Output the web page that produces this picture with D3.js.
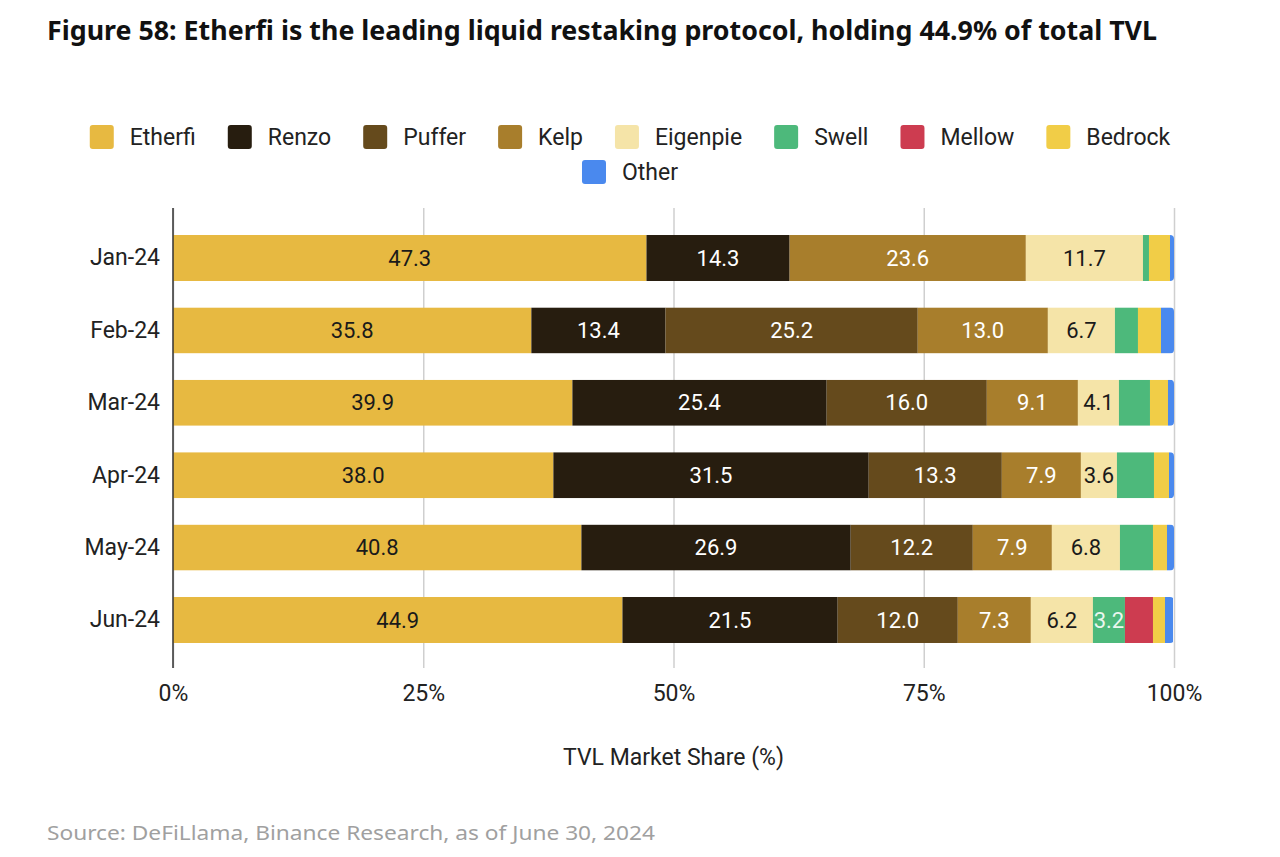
<!DOCTYPE html>
<html><head><meta charset="utf-8">
<script src="https://cdn.jsdelivr.net/npm/d3@7"></script>
<style>body{margin:0;background:#fff} svg{display:block}</style>
</head><body><svg id="c" width="1280" height="857"></svg>
<script>
const months = ["Jan-24","Feb-24","Mar-24","Apr-24","May-24","Jun-24"];
const seriesNames = ["Etherfi","Renzo","Puffer","Kelp","Eigenpie","Swell","Mellow","Bedrock","Other"];
const etherfi  = [47.3,35.8,39.9,38.0,40.8,44.9];
const renzo    = [14.3,13.4,25.4,31.5,26.9,21.5];
const puffer   = [0,25.2,16.0,13.3,12.2,12.0];
const kelp     = [23.6,13.0,9.1,7.9,7.9,7.3];
const eigenpie = [11.7,6.7,4.1,3.6,6.8,6.2];
const swell    = [0.6,2.3,3.1,3.7,3.3,3.2];
const mellow   = [0,0,0,0,0,2.8];
const bedrock  = [2.1,2.3,1.8,1.5,1.4,1.2];
const other    = [0.4,1.3,0.6,0.5,0.7,0.8];
const xTicks = [0,25,50,75,100];
const xTickLabels = ["0%","25%","50%","75%","100%"];
const labeledSeries = ["Etherfi","Renzo","Puffer","Kelp","Eigenpie"];
const extraLabels = [["Jun-24","Swell"]];
const colors = ["#E7B941","#271D0F","#654A1C","#A87E2C","#F5E4A8","#4DB97B","#CD3C50","#F1CD47","#4A89EE"];
const labelColors = ["#1a1a1a","#ffffff","#ffffff","#ffffff","#1a1a1a","#eaf6ee","#ffffff","#1a1a1a","#ffffff"];
const titleText = "Figure 58: Etherfi is the leading liquid restaking protocol, holding 44.9% of total TVL";
const sourceText = "Source: DeFiLlama, Binance Research, as of June 30, 2024";
const xAxisTitle = "TVL Market Share (%)";

const seriesArrays = [etherfi,renzo,puffer,kelp,eigenpie,swell,mellow,bedrock,other];
const rows = months.map((m,i)=>{const r={month:m}; seriesNames.forEach((s,j)=>r[s]=seriesArrays[j][i]); return r;});
const stack = d3.stack().keys(seriesNames)(rows);

const svg = d3.select("#c");
const FONT = "Roboto, 'Liberation Sans', Arial, sans-serif";
const FS = 23;

// title
svg.append("text").attr("x",47).attr("y",40).text(titleText)
  .attr("font-family","'Noto Sans', 'Open Sans', sans-serif").attr("font-weight",700)
  .attr("font-size",26).attr("fill","#111").attr("textLength",1110).attr("lengthAdjust","spacingAndGlyphs");

const plotTop = 208, plotBottom = 668;
const x = d3.scaleLinear().domain([0,100]).range([173,1174]);
const y = d3.scaleBand().domain(months).range([221.8,656.2]).paddingInner(0.365).paddingOuter(0.1825);

// gridlines
const gx = svg.append("g").attr("transform",`translate(0,${plotBottom})`)
  .call(d3.axisBottom(x).tickValues(xTicks).tickSize(-(plotBottom-plotTop)).tickFormat((d,i)=>xTickLabels[i]).tickPadding(17));
gx.select(".domain").remove();
gx.selectAll(".tick line").attr("stroke","#cfcfcf").attr("stroke-width",1.5);
gx.selectAll(".tick text").attr("font-family",FONT).attr("font-size",FS).attr("fill","#222");

// bars
const defs = svg.append("defs");
months.forEach((m,i)=>{
  defs.append("clipPath").attr("id","clip"+i).append("rect")
    .attr("x",x(0)-10).attr("y",y(m)).attr("width",x(100)-x(0)+10).attr("height",y.bandwidth()).attr("rx",4);
});
const barsG = svg.append("g");
stack.forEach((layer,j)=>{
  layer.forEach((d,i)=>{
    if (d[1]-d[0] <= 0) return;
    barsG.append("rect").attr("clip-path",`url(#clip${i})`)
      .attr("x",x(d[0])).attr("y",y(months[i])).attr("width",x(d[1])-x(d[0])).attr("height",y.bandwidth())
      .attr("fill",colors[j]);
  });
});
// labels
const labelsG = svg.append("g");
stack.forEach((layer,j)=>{
  const name = seriesNames[j];
  layer.forEach((d,i)=>{
    const v = d[1]-d[0];
    if (v<=0) return;
    const show = labeledSeries.includes(name) || extraLabels.some(e=>e[0]===months[i]&&e[1]===name);
    if (!show) return;
    labelsG.append("text").attr("x",(x(d[0])+x(d[1]))/2).attr("y",y(months[i])+y.bandwidth()/2)
      .attr("text-anchor","middle").attr("dominant-baseline","central")
      .attr("font-family",FONT).attr("font-size",22).attr("fill",labelColors[j])
      .text(v.toFixed(1));
  });
});

// y axis
const gy = svg.append("g").attr("transform",`translate(${x(0)},0)`)
  .call(d3.axisLeft(y).tickSize(0).tickPadding(13));
gy.select(".domain").remove();
gy.selectAll(".tick text").attr("font-family",FONT).attr("font-size",FS).attr("fill","#222");
svg.append("line").attr("x1",x(0)).attr("x2",x(0)).attr("y1",plotTop).attr("y2",plotBottom)
  .attr("stroke","#333").attr("stroke-width",1.5);

// x axis title
svg.append("text").attr("x",(x(0)+x(100))/2).attr("y",765).attr("text-anchor","middle")
  .attr("font-family",FONT).attr("font-size",FS).attr("fill","#222").text(xAxisTitle);

// legend
const legendG = svg.append("g");
const sw = 24, gapSwText = 16, gapItem = 32, maxW = 1120, centerX = 630;
const items = seriesNames.map((n,j)=>{
  const t = legendG.append("text").attr("font-family",FONT).attr("font-size",FS).attr("fill","#222").text(n);
  return {n,j,t,w:t.node().getComputedTextLength()};
});
let legendRows=[[]], cur=0;
items.forEach(it=>{
  const iw = sw+gapSwText+it.w;
  const rowW = cur===0?iw:cur+gapItem+iw;
  if (rowW>maxW && legendRows[legendRows.length-1].length){ legendRows.push([it]); cur=iw; }
  else { legendRows[legendRows.length-1].push(it); cur=rowW; }
});
legendRows.forEach((r,ri)=>{
  const total = r.reduce((a,it,k)=>a+sw+gapSwText+it.w+(k?gapItem:0),0);
  let cx = centerX-total/2; const cy = 137+ri*35;
  r.forEach(it=>{
    legendG.append("rect").attr("x",cx).attr("y",cy-12).attr("width",sw).attr("height",sw).attr("rx",3).attr("fill",colors[it.j]);
    it.t.attr("x",cx+sw+gapSwText).attr("y",cy).attr("dominant-baseline","central");
    cx += sw+gapSwText+it.w+gapItem;
  });
});

// source
svg.append("text").attr("x",47).attr("y",840).text(sourceText)
  .attr("font-family","'Noto Sans', 'Open Sans', sans-serif").attr("font-size",20).attr("fill","#a0a0a0")
  .attr("textLength",608).attr("lengthAdjust","spacingAndGlyphs");
</script></body></html>
